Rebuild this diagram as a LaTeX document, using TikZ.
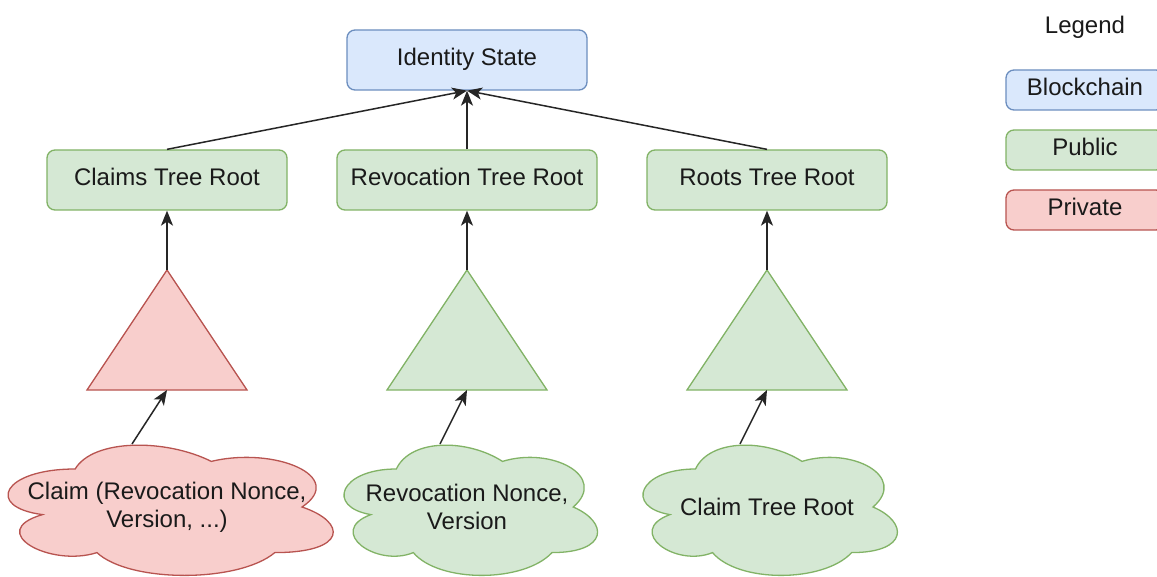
\documentclass[tikz,border=0pt]{standalone}
\usepackage{fontspec}
\setmainfont{Liberation Sans}
\usetikzlibrary{arrows.meta}
\definecolor{bluefill}{HTML}{DAE8FC}
\definecolor{bluedraw}{HTML}{6C8EBF}
\definecolor{greenfill}{HTML}{D5E8D4}
\definecolor{greendraw}{HTML}{82B366}
\definecolor{redfill}{HTML}{F8CECC}
\definecolor{reddraw}{HTML}{B85450}
\definecolor{txt}{HTML}{1A1A1A}
\tikzset{
  box/.style={rectangle, rounded corners=8pt, line width=1.3pt, inner sep=0pt,
    minimum height=60pt, text=txt, font=\fontsize{24}{28}\selectfont,
    text height=17pt, text depth=5pt},
  bluebox/.style={box, fill=bluefill, draw=bluedraw},
  greenbox/.style={box, fill=greenfill, draw=greendraw},
  redbox/.style={box, fill=redfill, draw=reddraw},
  legbox/.style={minimum width=158pt, minimum height=40pt},
  greentri/.style={fill=greenfill, draw=greendraw, line width=1.3pt, line join=miter},
  redtri/.style={fill=redfill, draw=reddraw, line width=1.3pt, line join=miter},
  greencloud/.style={fill=greenfill, draw=greendraw, line width=1.3pt},
  redcloud/.style={fill=redfill, draw=reddraw, line width=1.3pt},
  cloudtext/.style={align=center, text=txt, font=\fontsize{24}{28}\selectfont, inner sep=0pt},
  conn/.style={line width=1.5pt, draw=black!85, -{Stealth[length=15pt, width=12pt, inset=4pt]}},
}
\newcommand{\mycloud}[5]{%
  \begin{scope}[shift={(#1,#2)}, x=#3pt, y=-#4pt]
    \path[#5] (0.25,0.25) .. controls (0.05,0.25) and (0,0.5) .. (0.16,0.55)
      .. controls (0,0.66) and (0.18,0.9) .. (0.31,0.8)
      .. controls (0.4,1) and (0.7,1) .. (0.8,0.8)
      .. controls (1,0.8) and (1,0.6) .. (0.875,0.5)
      .. controls (1,0.3) and (0.8,0.1) .. (0.625,0.2)
      .. controls (0.5,0.05) and (0.3,0.05) .. (0.25,0.25) -- cycle;
  \end{scope}}
\begin{document}
\begin{tikzpicture}[x=1pt, y=-1pt]
\useasboundingbox (0,0) rectangle (1157,577);
\clip (0,0) rectangle (1157,577);
\fill[white] (0,0) rectangle (1157,577);

% top row
\node[bluebox, minimum width=240pt] (id) at (467,60) {Identity State};
\node[greenbox, minimum width=240pt] (ctr) at (167,180) {Claims Tree Root};
\node[greenbox, minimum width=260pt] (rtr) at (467,180) {Revocation Tree Root};
\node[greenbox, minimum width=240pt] (rotr) at (767,180) {Roots Tree Root};

% triangles
\draw[redtri] (87,390) -- (167,270) -- (247,390) -- cycle;
\draw[greentri] (387,390) -- (467,270) -- (547,390) -- cycle;
\draw[greentri] (687,390) -- (767,270) -- (847,390) -- cycle;
\coordinate (t1top) at (167,270);
\coordinate (t1bot) at (167,390);
\coordinate (t2top) at (467,270);
\coordinate (t2bot) at (467,390);
\coordinate (t3top) at (767,270);
\coordinate (t3bot) at (767,390);

% clouds
\mycloud{-15.6}{431}{363}{152}{redcloud}
\mycloud{325.6}{431}{283}{152}{greencloud}
\mycloud{624.5}{431}{284}{152}{greencloud}
\node[cloudtext] (c1) at (167,507) {Claim (Revocation Nonce,\\Version, ...)};
\node[cloudtext] (c2) at (467,507) {Revocation Nonce,\\Version};
\node[cloudtext] (c3) at (767,507) {Claim Tree Root};
\coordinate (c1top) at (132,444);
\coordinate (c2top) at (440,444);
\coordinate (c3top) at (740,444);

% connectors
\draw[conn] (ctr.north) -- (id.south);
\draw[conn] (rtr.north) -- (id.south);
\draw[conn] (rotr.north) -- (id.south);
\draw[conn] (t1top) -- (ctr.south);
\draw[conn] (t2top) -- (rtr.south);
\draw[conn] (t3top) -- (rotr.south);
\draw[conn] (c1top) -- (t1bot);
\draw[conn] (c2top) -- (t2bot);
\draw[conn] (c3top) -- (t3bot);

% legend
\node[text=txt, font=\fontsize{24}{28}\selectfont] (leg) at (1085,27) {Legend};
\node[bluebox, legbox] (lb) at (1085,90) {Blockchain};
\node[greenbox, legbox] (lg) at (1085,150) {Public};
\node[redbox, legbox] (lr) at (1085,210) {Private};
\end{tikzpicture}
\end{document}
